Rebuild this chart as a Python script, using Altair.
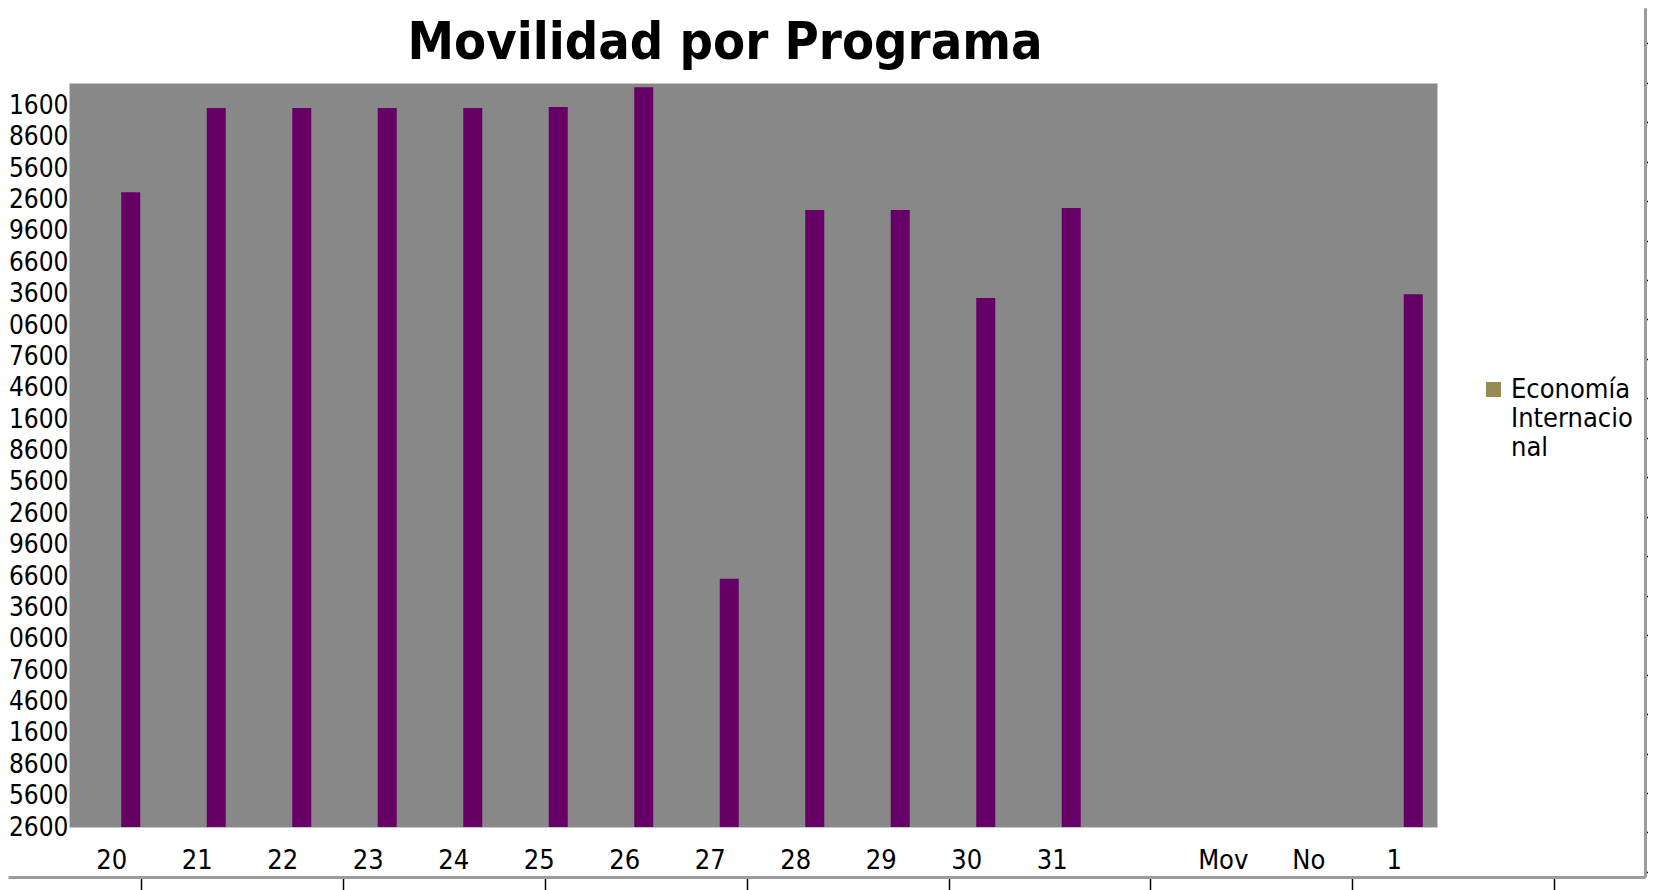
import altair as alt
import pandas as pd

# ---- data ----
categorias = ["20", "21", "22", "23", "24", "25", "26", "27", "28", "29", "30", "31", " ", "Mov", "No", "1"]
movilidad = [63300, 71350, 71350, 71350, 71350, 71450, 73350, 26350, 61600, 61600, 53200, 61800, None, None, None, 53550]
serie = "Economía Internacional"
serie_lineas = ["Economía", "Internacio", "nal"]
y_ticks = [2600, 5600, 8600, 11600, 14600, 17600, 20600, 23600, 26600, 29600, 32600, 35600,
           38600, 41600, 44600, 47600, 50600, 53600, 56600, 59600, 62600, 65600, 68600, 71600]
marco_x_ticks = [0, 1, 2, 3, 4, 5, 6, 7]
marco_y_ticks = [0, 1, 2, 3, 4, 5, 6, 7, 8, 9, 10, 11, 12, 13, 14, 15, 16, 17, 18, 19, 20, 21]

FONT = "DejaVu Sans Condensed, DejaVu Sans, sans-serif"
W, H = 1368, 744

df = pd.DataFrame({"categoria": categorias, "movilidad": movilidad}).dropna()
df["posicion"] = 2

bars = alt.Chart(df).mark_bar(color="#660066", clip=True).encode(
    x=alt.X("categoria:N",
            scale=alt.Scale(domain=categorias, paddingInner=1 / 3, paddingOuter=1 / 6),
            axis=alt.Axis(orient="bottom", title=None, domain=False, ticks=False, grid=False,
                          labelAngle=0, labelPadding=20, labelFontSize=27, labelFont=FONT,
                          labelColor="black")),
    xOffset=alt.XOffset("posicion:O", scale=alt.Scale(domain=[0, 1, 2], paddingInner=0, paddingOuter=0)),
    y=alt.Y("movilidad:Q",
            scale=alt.Scale(domain=[2600, 73750], nice=False, zero=False),
            axis=alt.Axis(orient="left", title=None, domain=False, ticks=False, grid=False,
                          values=y_ticks, labelExpr="slice(toString(datum.value), -4)",
                          labelOverlap=False, labelFlush=False, labelPadding=1,
                          labelFontSize=26, labelFont=FONT, labelColor="black")),
)

label_expr = "[" + ", ".join("'" + s + "'" for s in serie_lineas) + "]"
leyenda = alt.Chart(pd.DataFrame({"serie": [serie]})).mark_square(opacity=0).encode(
    color=alt.Color("serie:N",
                    scale=alt.Scale(domain=[serie], range=["#948A54"]),
                    legend=alt.Legend(orient="none", legendX=1411, legendY=293, title=None,
                                      padding=0, symbolType="square",
                                      symbolSize=225, symbolStrokeWidth=0, symbolOpacity=1,
                                      labelExpr=label_expr, labelFont=FONT, labelFontSize=27,
                                      labelColor="black", labelOffset=4, labelLimit=400))
)

marco_x = alt.Chart(pd.DataFrame({"mx": marco_x_ticks})).mark_point(opacity=0).encode(
    x=alt.X("mx:Q",
            scale=alt.Scale(domain=[-0.66, 7.45], range=[-61, 1576], nice=False, zero=False),
            axis=alt.Axis(orient="bottom", offset=50, values=marco_x_ticks, labels=False,
                          title=None, grid=False, domainColor="#9c9c9c", domainWidth=3,
                          tickColor="black", tickWidth=1.5, tickSize=14))
)

marco_y = alt.Chart(pd.DataFrame({"my": marco_y_ticks})).mark_point(opacity=0).encode(
    y=alt.Y("my:Q",
            scale=alt.Scale(domain=[-0.9, 21.13], range=[-75.2, 794], nice=False, zero=False),
            axis=alt.Axis(orient="right", offset=208, values=marco_y_ticks, labels=False,
                          title=None, grid=False, domainColor="#9c9c9c", domainWidth=3,
                          tickColor="black", tickWidth=1.5, tickSize=6))
)

chart = alt.layer(bars, leyenda, marco_x, marco_y).resolve_scale(
    x="independent", y="independent"
).properties(
    width=W, height=H,
    autosize=alt.AutoSizeParams(type="none"),
    padding={"left": 61, "top": 75, "right": 211, "bottom": 63},
    title=alt.Title("Movilidad por Programa", font=FONT, fontSize=52, fontWeight="bold",
                    color="black", anchor="middle", frame="group", dx=-28, offset=-29),
    background="white",
    view=alt.ViewBackground(fill="#888888", stroke="#c8c8c8", strokeWidth=1),
).configure_view(fill="#888888", stroke="#c8c8c8", strokeWidth=1)

chart.save("out.html", embed_options={"renderer": "svg", "actions": False})
